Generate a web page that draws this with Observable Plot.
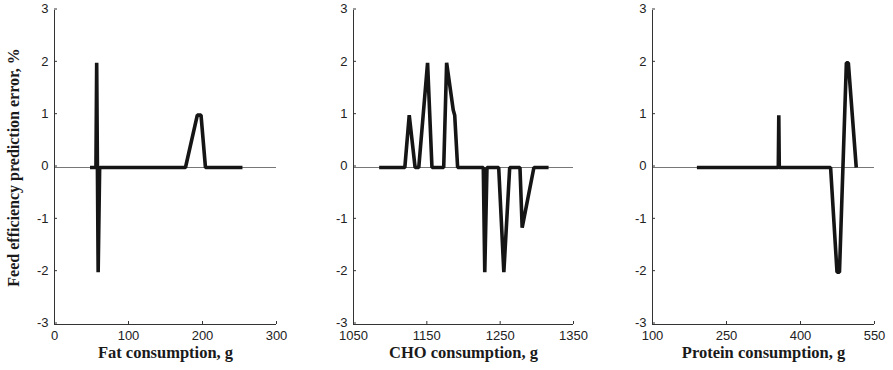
<!DOCTYPE html>
<html>
<head>
<meta charset="utf-8">
<script src="https://cdn.jsdelivr.net/npm/d3@7"></script>
<script src="https://cdn.jsdelivr.net/npm/@observablehq/plot@0.6"></script>
<style>
  html, body { margin: 0; padding: 0; background: #fff; }
  #chart { position: relative; width: 893px; height: 370px; overflow: hidden; }
  #chart svg { position: absolute; top: 0; background: transparent; }
  #chart svg text { font-family: "Liberation Sans", Arial, sans-serif; fill: #222; }
  #chart g[aria-label="x-axis label"] text {
    font-family: "Liberation Serif", "Times New Roman", serif;
    font-weight: bold; font-size: 16.5px; fill: #1a1a1a;
  }
  #chart g[aria-label="y-axis label"] text {
    font-family: "Liberation Serif", "Times New Roman", serif;
    font-weight: bold; font-size: 16px; fill: #1a1a1a;
  }
</style>
</head>
<body>
<div id="chart"></div>
<script>
// ---- data ----
const yTicks = [-3, -2, -1, 0, 1, 2, 3];
const yLabel = "Feed efficiency prediction error, %";

const fatTicks = [0, 100, 200, 300];
const fatX = [48, 56, 57, 59, 61, 177, 193, 198, 204, 254];
const fatY = [0, 0, 2, -2, 0, 0, 1, 1, 0, 0];
const fatLabel = "Fat consumption, g";

const choTicks = [1050, 1150, 1250, 1350];
const choX = [1085, 1120, 1126, 1134, 1139, 1151, 1157, 1173, 1177, 1186, 1188, 1192, 1227, 1229, 1232, 1248, 1255, 1263, 1277, 1280, 1296, 1316];
const choY = [0, 0, 1, 0, 0, 2, 0, 0, 2, 1.1, 1, 0, 0, -2, 0, 0, -2, 0, 0, -1.15, 0, 0];
const choLabel = "CHO consumption, g";

const proteinTicks = [100, 250, 400, 550];
const proteinX = [190, 355, 356, 357, 461, 474, 479, 493, 497, 513];
const proteinY = [0, 0, 1, 0, 0, -2, -2, 2, 2, 0];
const proteinLabel = "Protein consumption, g";

// ---- layout ----
const panels = [
  {xs: fatX, ys: fatY, ticks: fatTicks, label: fatLabel, left: 0, width: 300, ml: 54, mr: 24, showY: true},
  {xs: choX, ys: choY, ticks: choTicks, label: choLabel, left: 300, width: 300, ml: 53, mr: 27, showY: false},
  {xs: proteinX, ys: proteinY, ticks: proteinTicks, label: proteinLabel, left: 600, width: 293, ml: 52, mr: 19, showY: false}
];

const root = document.getElementById("chart");
for (const p of panels) {
  const data = p.xs.map((x, i) => ({x, y: p.ys[i]}));
  const domain = [p.ticks[0], p.ticks[p.ticks.length - 1]];
  const svg = Plot.plot({
    width: p.width,
    height: 370,
    marginLeft: p.ml,
    marginRight: p.mr,
    marginTop: 10,
    marginBottom: 46,
    style: {fontSize: "13px", overflow: "visible"},
    x: {domain, ticks: p.ticks},
    y: {domain: [-3, 3], ticks: yTicks},
    marks: [
      Plot.ruleY([0], {stroke: "#777", strokeWidth: 1.2}),
      Plot.line(data, {x: "x", y: "y", stroke: "#151515", strokeWidth: 3.6, strokeLinejoin: "miter", strokeLinecap: "butt"}),
      Plot.axisX({ticks: p.ticks, tickSize: -3, tickPadding: 9, tickFormat: d => String(d),
        label: p.label, labelAnchor: "center", labelArrow: "none", labelOffset: 33, stroke: "#333"}),
      Plot.axisY({ticks: yTicks, tickSize: -3, tickPadding: 9, dy: -1.5, tickFormat: d => String(d),
        label: p.showY ? yLabel : null, labelAnchor: "center", labelArrow: "none", labelOffset: 47, stroke: "#333"}),
      Plot.ruleX([domain[0]], {stroke: "#333", strokeWidth: 1}),
      Plot.ruleY([-3], {stroke: "#333", strokeWidth: 1})
    ]
  });
  svg.style.left = p.left + "px";
  root.appendChild(svg);
}
</script>
</body>
</html>
